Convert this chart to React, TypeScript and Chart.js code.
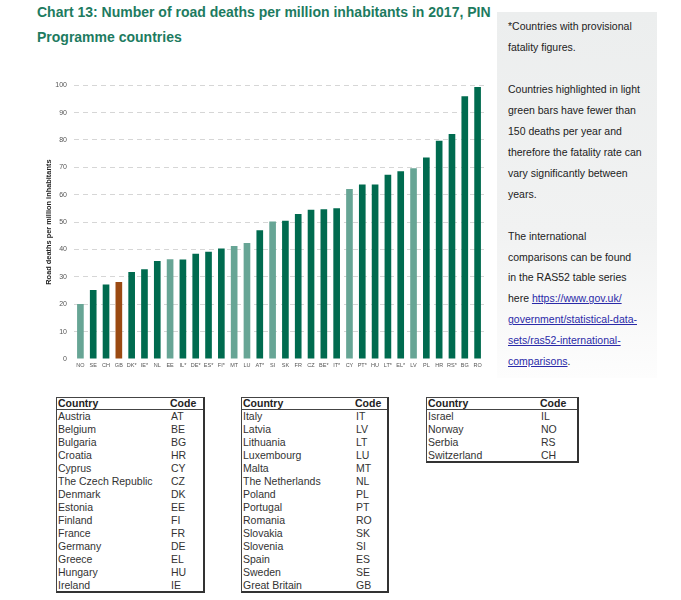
import React, { useEffect, useRef } from "react";
import { Chart, registerables } from "chart.js";

Chart.register(...registerables);

const countryCodes = ["NO","SE","CH","GB","DK*","IE*","NL","EE","IL*","DE*","ES*","FI*","MT","LU","AT*","SI","SK","FR","CZ","BE*","IT*","CY","PT*","HU","LT*","EL*","LV","PL","HR","RS*","BG","RO"];
const deathsPerMillion = [20.1,25.2,27.2,28.1,31.8,32.8,35.8,36.4,36.3,38.4,39.2,40.4,41.3,42.4,47.0,50.2,50.5,53.0,54.5,54.7,55.1,62.1,63.7,63.7,67.3,68.6,69.7,73.6,79.7,82.2,96.0,99.3];
const lightGreenCodes = ["NO","EE","MT","LU","SI","CY","LV"];
const highlightCode = "GB";
const yTicks = [0,10,20,30,40,50,60,70,80,90,100];

const table1 = [["Austria","AT"],["Belgium","BE"],["Bulgaria","BG"],["Croatia","HR"],["Cyprus","CY"],["The Czech Republic","CZ"],["Denmark","DK"],["Estonia","EE"],["Finland","FI"],["France","FR"],["Germany","DE"],["Greece","EL"],["Hungary","HU"],["Ireland","IE"]];
const table2 = [["Italy","IT"],["Latvia","LV"],["Lithuania","LT"],["Luxembourg","LU"],["Malta","MT"],["The Netherlands","NL"],["Poland","PL"],["Portugal","PT"],["Romania","RO"],["Slovakia","SK"],["Slovenia","SI"],["Spain","ES"],["Sweden","SE"],["Great Britain","GB"]];
const table3 = [["Israel","IL"],["Norway","NO"],["Serbia","RS"],["Switzerland","CH"]];

const DARK = "#006b4f";
const LIGHT = "#67a595";
const BROWN = "#9b4a12";
const FONT = "'Liberation Sans', Arial, sans-serif";

function CodeTable({ rows, left, width }: { rows: string[][]; left: number; width: number }) {
  const rowH = 13;
  const headH = 11;
  const height = headH + rows.length * rowH;
  return (
    <div
      style={{
        position: "absolute",
        left,
        top: 397,
        width,
        height,
        borderTop: "1px solid #444",
        borderLeft: "1px solid #444",
        borderRight: "2px solid #333",
        borderBottom: "2px solid #333",
        boxSizing: "content-box",
        fontFamily: FONT,
        fontSize: 10.5,
        color: "#333",
      }}
    >
      <div style={{ position: "absolute", left: 0, top: 0, width, height: headH, borderBottom: "1px solid #444" }}>
        <span style={{ position: "absolute", left: 1, top: -1, lineHeight: "12px", fontWeight: "bold", color: "#222" }}>Country</span>
        <span style={{ position: "absolute", left: 113, top: -1, lineHeight: "12px", fontWeight: "bold", color: "#222" }}>Code</span>
      </div>
      {rows.map((r, i) => (
        <div key={i} style={{ position: "absolute", left: 0, top: headH + 1 + i * rowH, width, height: rowH, lineHeight: rowH + "px" }}>
          <span style={{ position: "absolute", left: 1, top: 0 }}>{r[0]}</span>
          <span style={{ position: "absolute", left: 114, top: 0 }}>{r[1]}</span>
        </div>
      ))}
    </div>
  );
}

export default function App() {
  const canvasRef = useRef<HTMLCanvasElement | null>(null);

  useEffect(() => {
    if (!canvasRef.current) return;
    const colors = countryCodes.map((c) => {
      const base = c.replace("*", "");
      if (base === highlightCode) return BROWN;
      if (lightGreenCodes.includes(base)) return LIGHT;
      return DARK;
    });
    const chart = new Chart(canvasRef.current, {
      type: "bar",
      data: {
        labels: countryCodes,
        datasets: [
          {
            data: deathsPerMillion,
            backgroundColor: colors,
            borderWidth: 0,
            barPercentage: 0.52,
            categoryPercentage: 1,
          },
        ],
      },
      options: {
        animation: false,
        responsive: false,
        maintainAspectRatio: false,
        layout: { padding: { top: 10, right: 8, left: 0, bottom: 0 } },
        plugins: { legend: { display: false }, tooltip: { enabled: false } },
        scales: {
          x: {
            grid: { display: false, drawTicks: false },
            border: { display: false },
            ticks: {
              autoSkip: false,
              maxRotation: 0,
              minRotation: 0,
              padding: 3,
              color: "#555",
              font: { family: FONT, size: 5.5 },
            },
            afterFit: (s: any) => {
              s.height = 17;
            },
          },
          y: {
            min: 0,
            max: 100,
            afterBuildTicks: (s: any) => {
              s.ticks = yTicks.map((v) => ({ value: v }));
            },
            grid: {
              drawTicks: false,
              color: (ctx: any) => (ctx.tick && ctx.tick.value === 0 ? "rgba(0,0,0,0)" : "#d6d6d6"),
              lineWidth: 1,
            },
            border: { display: false, dash: [5, 4] },
            ticks: {
              padding: 7,
              color: "#555",
              font: { family: FONT, size: 7 },
            },
            title: {
              display: true,
              text: "Road deaths per million inhabitants",
              color: "#222",
              font: { family: FONT, size: 7.4, weight: "bold" },
              padding: { top: 5, bottom: 0 },
            },
            afterFit: (s: any) => {
              s.width = 34;
            },
          },
        },
      } as any,
    });
    return () => chart.destroy();
  }, []);

  const linkStyle = { color: "#2a2aa8", textDecoration: "underline" };
  const panelLines: React.ReactNode[] = [
    "*Countries with provisional",
    "fatality figures.",
    "",
    "Countries highlighted in light",
    "green bars have fewer than",
    "150 deaths per year and",
    "therefore the fatality rate can",
    "vary significantly between",
    "years.",
    "",
    "The international",
    "comparisons can be found",
    "in the RAS52 table series",
    <span key="l1">here <a style={linkStyle}>https://www.gov.uk/</a></span>,
    <a key="l2" style={linkStyle}>government/statistical-data-</a>,
    <a key="l3" style={linkStyle}>sets/ras52-international-</a>,
    <span key="l4"><a style={linkStyle}>comparisons</a>.</span>,
  ];
  const LH = 20.94;

  return (
    <div style={{ position: "absolute", left: 0, top: 0, width: 681, height: 600, background: "#fff", overflow: "hidden", fontFamily: FONT }}>
      <div
        style={{
          position: "absolute",
          left: 37,
          top: 0,
          width: 460,
          fontSize: 14,
          fontWeight: "bold",
          color: "#1d7b5f",
          lineHeight: "24.5px",
        }}
      >
        Chart 13: Number of road deaths per million inhabitants in 2017, PIN
        <br />
        Programme countries
      </div>
      <div
        style={{
          position: "absolute",
          left: 497,
          top: 12,
          width: 160,
          height: 366,
          background: "linear-gradient(#eceeee 0%, #f1f2f2 60%, #fdfdfd 100%)",
        }}
      >
        <div style={{ position: "absolute", left: 11, top: 4.2, fontSize: 10.5, lineHeight: LH + "px", color: "#222", whiteSpace: "nowrap" }}>
          {panelLines.map((l, i) => (
            <div key={i} style={{ height: LH }}>{l}</div>
          ))}
        </div>
      </div>
      <canvas ref={canvasRef} width={452} height={302} style={{ position: "absolute", left: 40, top: 74, width: 452, height: 302 }} />
      <CodeTable rows={table1} left={56} width={146} />
      <CodeTable rows={table2} left={241} width={145} />
      <CodeTable rows={table3} left={426} width={150} />
    </div>
  );
}
